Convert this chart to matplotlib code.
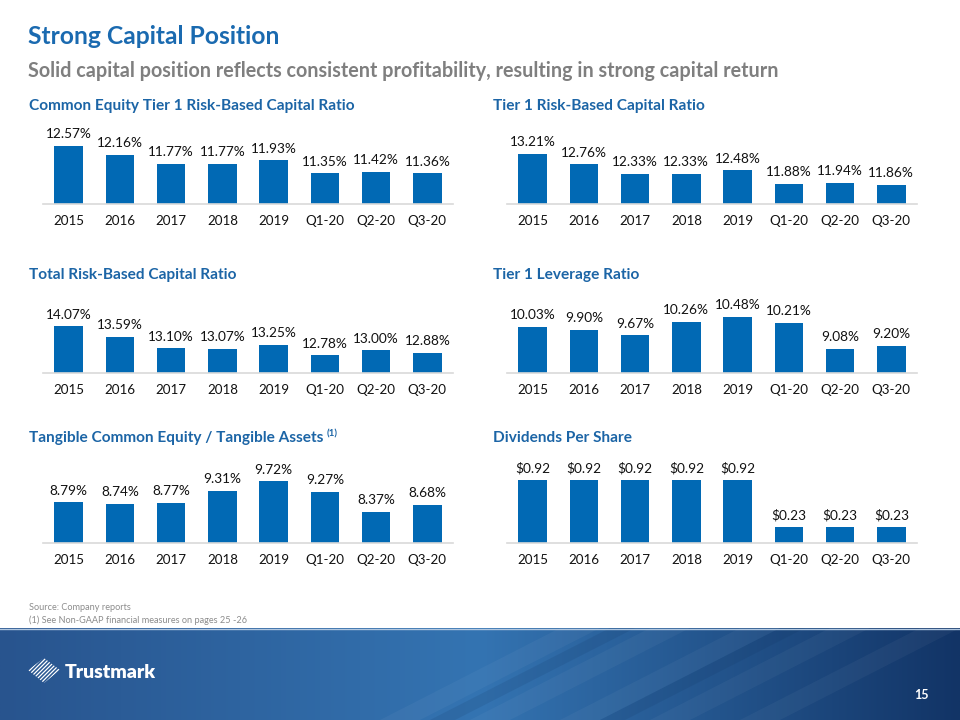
import matplotlib
matplotlib.use("Agg")
import matplotlib.pyplot as plt
import numpy as np
from matplotlib.patches import Polygon

W, H = 960, 720

categories = ['2015', '2016', '2017', '2018', '2019', 'Q1-20', 'Q2-20', 'Q3-20']
cet1 = [12.57, 12.16, 11.77, 11.77, 11.93, 11.35, 11.42, 11.36]
tier1 = [13.21, 12.76, 12.33, 12.33, 12.48, 11.88, 11.94, 11.86]
total_rbc = [14.07, 13.59, 13.10, 13.07, 13.25, 12.78, 13.00, 12.88]
leverage = [10.03, 9.90, 9.67, 10.26, 10.48, 10.21, 9.08, 9.20]
tce = [8.79, 8.74, 8.77, 9.31, 9.72, 9.27, 8.37, 8.68]
dividends = [0.92, 0.92, 0.92, 0.92, 0.92, 0.23, 0.23, 0.23]

BAR = '#0169B4'
TITLE_BLUE = '#1A6AB0'
HEAD_BLUE = '#1C65A6'
FONT = 'Lato'

plt.rcParams['font.family'] = [FONT, 'DejaVu Sans']


def fx(px):
    return px / W


def fy(py):
    return 1 - py / H


fig = plt.figure(figsize=(9.6, 7.2), dpi=100)
fig.patch.set_facecolor('white')

# header
fig.text(fx(28), fy(37), 'Strong Capital Position', color=TITLE_BLUE,
         fontsize=17.7, fontweight='bold', va='center', ha='left')
fig.text(fx(28), fy(71), 'Solid capital position reflects consistent profitability, '
         'resulting in strong capital return', color='#7F7F7F',
         fontsize=14.2, fontweight='bold', va='center', ha='left')

# title, values, label format, y-range, left px, baseline px, title px
panels = [
    ('Common Equity Tier 1 Risk-Based Capital Ratio', cet1, '{:.2f}%', (10, 13), 43, 204, 106),
    ('Tier 1 Risk-Based Capital Ratio', tier1, '{:.2f}%', (11, 14), 507, 204, 106),
    ('Total Risk-Based Capital Ratio', total_rbc, '{:.2f}%', (12, 15), 43, 373, 275),
    ('Tier 1 Leverage Ratio', leverage, '{:.2f}%', (8, 11), 507, 373, 275),
    ('Tangible Common Equity / Tangible Assets', tce, '{:.2f}%', (7, 10), 43, 543, 438),
    ('Dividends Per Share', dividends, '${:.2f}', (0, 1.0), 507, 543, 438),
]

titles = {}
for title, vals, fmt, ylim, left, base, ty in panels:
    ax = fig.add_axes([fx(left), fy(base), fx(410), 68 / H])
    x = np.arange(len(categories))
    ax.bar(x, np.array(vals) - ylim[0], bottom=ylim[0], width=0.56, color=BAR)
    ax.set_xlim(-0.5, len(categories) - 0.5)
    ax.set_ylim(*ylim)
    for xi, v in zip(x, vals):
        ax.annotate(fmt.format(v), (xi, v), xytext=(0, 4), textcoords='offset points',
                    ha='center', va='bottom', fontsize=9.8, color='#111111')
    ax.set_xticks(x)
    ax.set_xticklabels(categories, fontsize=9.6, color='#111111')
    ax.tick_params(axis='x', length=0, pad=8)
    ax.set_yticks([])
    for s in ['top', 'left', 'right']:
        ax.spines[s].set_visible(False)
    ax.spines['bottom'].set_color('#D9D9D9')
    ax.spines['bottom'].set_linewidth(1.2)
    ax.patch.set_alpha(0)
    titles[title] = fig.text(fx(left - 14), fy(ty), title, color=HEAD_BLUE, fontsize=11.1,
                             fontweight='bold', va='center', ha='left')

# superscript for TCE footnote, placed right after its title
fig.canvas.draw()
bb = titles['Tangible Common Equity / Tangible Assets'].get_window_extent()
fig.text((bb.x1 + 3) / W, fy(434), '(1)', color=HEAD_BLUE, fontsize=7, fontweight='bold',
         va='center', ha='left')

# footnotes
fig.text(fx(29), fy(607), 'Source: Company reports', color='#8C8C8C', fontsize=6.6,
         va='center', ha='left')
fig.text(fx(29), fy(620), '(1) See Non-GAAP financial measures on pages 25 -26',
         color='#8C8C8C', fontsize=6.6, va='center', ha='left')

# bottom band with gradient
band = fig.add_axes([0, 0, 1, 92 / H])
band.set_xlim(0, W)
band.set_ylim(0, 92)
band.axis('off')
xs = np.linspace(0, 1, 400)
left_c = np.array([40, 84, 142]) / 255
mid_c = np.array([52, 116, 178]) / 255
right_c = np.array([18, 52, 102]) / 255
grad = np.zeros((2, len(xs), 3))
for i, t in enumerate(xs):
    if t < 0.5:
        c = left_c + (mid_c - left_c) * (t / 0.5)
    else:
        c = mid_c + (right_c - mid_c) * ((t - 0.5) / 0.5)
    grad[:, i, :] = c
band.imshow(grad, extent=[0, W, 0, 92], aspect='auto', zorder=0)
# diagonal stripes
for x0 in [380, 470, 560, 650, 740]:
    band.add_patch(Polygon([(x0, 0), (x0 + 40, 0), (x0 + 220, 92), (x0 + 180, 92)],
                           closed=True, facecolor='white', alpha=0.04, lw=0, zorder=1))
for x0 in [430, 600]:
    band.add_patch(Polygon([(x0, 0), (x0 + 25, 0), (x0 + 205, 92), (x0 + 180, 92)],
                           closed=True, facecolor='#0B2A55', alpha=0.12, lw=0, zorder=1))
band.axhline(91.5, color='#AFC6E0', lw=1.0, zorder=2)

# logo icon: striped rhombus
cx, cy = 44, 92 - (670 - 628)
icon = Polygon([(cx - 16, cy), (cx, cy + 12), (cx + 16, cy), (cx, cy - 13)],
               closed=True, facecolor='none', edgecolor='none')
band.add_patch(icon)
for k in np.linspace(-30, 30, 16):
    ln, = band.plot([cx + k - 14, cx + k + 14], [cy - 14, cy + 14], color='white',
                    lw=0.9, zorder=3)
    ln.set_clip_path(icon)
band.text(65, 92 - (673 - 628), 'Trustmark', color='white', fontsize=14,
          fontweight='heavy', va='center', ha='left', zorder=3)
band.text(921, 92 - (695 - 628), '15', color='white', fontsize=9, fontweight='bold',
          va='center', ha='center', zorder=3)

fig.savefig('out.png', dpi=100, facecolor='white')
